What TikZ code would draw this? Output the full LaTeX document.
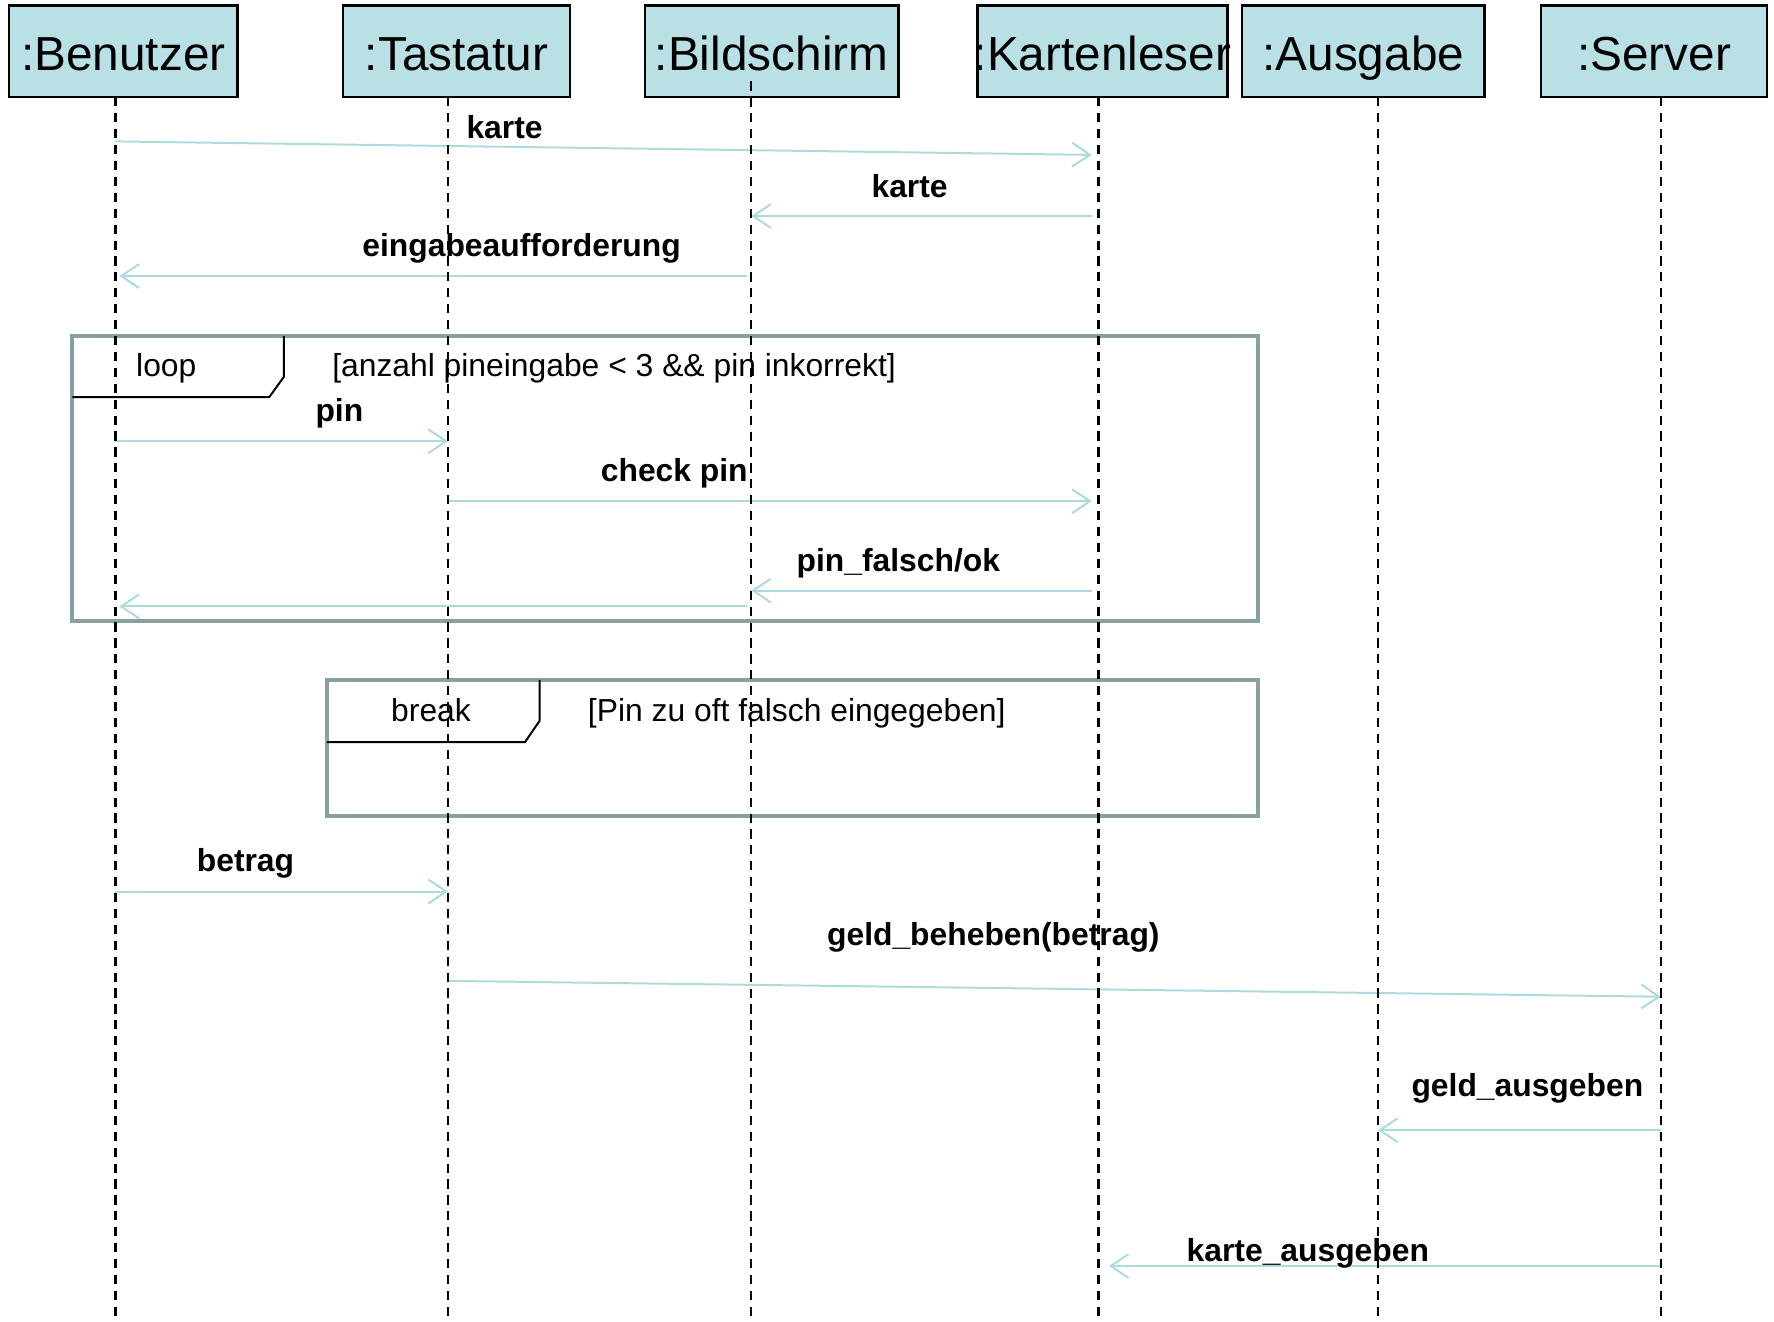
\documentclass[tikz,border=0pt]{standalone}
\usepackage{fontspec}
\setmainfont{Liberation Sans}
\usetikzlibrary{arrows.meta}
\definecolor{lifebox}{RGB}{185,224,228}
\definecolor{msgline}{RGB}{172,219,223}
\definecolor{fragline}{RGB}{137,160,162}

\begin{document}
\begin{tikzpicture}[x=0.01cm,y=-0.01cm,
	objbox/.style={draw,line width=0.6pt,fill=lifebox,minimum height=0.81cm,inner sep=0pt,
		text height=9.4pt,text depth=0pt,font=\fontsize{12}{14}\selectfont},
	lifeline/.style={line width=0.6pt,dash pattern=on 2.3pt off 1.7pt},
	msg/.style={draw=msgline,line width=0.5pt,-{Straight Barb[length=4.5pt,width=6pt]}},
	msglabel/.style={anchor=base,inner sep=0pt,font=\bfseries\fontsize{8}{10}\selectfont},
	frag/.style={draw=fragline,line width=1.05pt},
	tagline/.style={line width=0.5pt},
	fragtxt/.style={anchor=base,inner sep=0pt,font=\fontsize{8}{10}\selectfont}]
	\useasboundingbox (0,0) rectangle (1568,1168);

	% objects
	\node[objbox,minimum width=2.02cm] (ben) at (109,45.5) {:Benutzer};
	\node[objbox,minimum width=2.01cm] (tast) at (403.5,45.5) {:Tastatur};
	\node[objbox,minimum width=2.24cm] (bild) at (682,45.5) {:Bildschirm};
	\node[objbox,minimum width=2.21cm] (kart) at (974.5,45.5) {\makebox[0pt]{:Kartenleser}};
	\node[objbox,minimum width=2.14cm] (ausg) at (1205,45.5) {:Ausgabe};
	\node[objbox,minimum width=2.00cm] (serv) at (1462,45.5) {:Server};

	\coordinate (ll-ben) at (102,0);
	\coordinate (ll-tast) at (396,0);
	\coordinate (ll-bild) at (664,0);
	\coordinate (ll-kart) at (971,0);
	\coordinate (ll-ausg) at (1218,0);
	\coordinate (ll-serv) at (1468,0);

	% fragments
	\draw[frag] (64,297) rectangle (1112,549);
	\draw[tagline] (64,351) -- (238,351) -- (251,333) -- (251,297);
	\node[fragtxt] (loopkw) at (147,333) {loop};
	\node[fragtxt,anchor=base west] (loopguard) at (293,333) {[anzahl pineingabe < 3 \&\& pin inkorrekt]};

	\draw[frag] (289,601) rectangle (1112,721);
	\draw[tagline] (289,656) -- (464,656) -- (477,637) -- (477,601);
	\node[fragtxt] (breakkw) at (381,638) {break};
	\node[fragtxt,anchor=base west] (breakguard) at (519,638) {[Pin zu oft falsch eingegeben]};

	% messages
	\draw[msg,shorten >=1.7pt] (ll-ben |- 0,125) -- (ll-kart |- 0,137);
	\node[msglabel] (m-karte) at (446,122) {karte};
	\draw[msg,shorten <=1.7pt] (ll-kart |- 0,191) -- (ll-bild |- 0,191);
	\node[msglabel] (m-karte2) at (804,175) {karte};
	\draw[msg,shorten <=1pt,shorten >=1pt] (ll-bild |- 0,244) -- (ll-ben |- 0,244);
	\node[msglabel] (m-eingabe) at (461,227) {eingabeaufforderung};

	\draw[msg] (ll-ben |- 0,390) -- (ll-tast |- 0,390);
	\node[msglabel] (m-pin) at (300,373) {pin};
	\draw[msg,shorten >=1.7pt] (ll-tast |- 0,443) -- (ll-kart |- 0,443);
	\node[msglabel] (m-check) at (596,426) {check pin};
	\draw[msg,shorten <=1.7pt] (ll-kart |- 0,522) -- (ll-bild |- 0,522);
	\node[msglabel] (m-falsch) at (794,505) {pin\_falsch/ok};
	\draw[msg,shorten <=1pt,shorten >=1pt] (ll-bild |- 0,536) -- (ll-ben |- 0,536);

	\draw[msg] (ll-ben |- 0,788) -- (ll-tast |- 0,788);
	\node[msglabel] (m-betrag) at (217,770) {betrag};
	\draw[msg] (ll-tast |- 0,867) -- (ll-serv |- 0,881);
	\node[msglabel] (m-beheben) at (878,836) {geld\_beheben(betrag)};
	\draw[msg] (ll-serv |- 0,999) -- (ll-ausg |- 0,999);
	\node[msglabel] (m-ausgeben) at (1350,969) {geld\_ausgeben};
	\draw[msg,shorten >=2.6pt] (ll-serv |- 0,1119) -- (ll-kart |- 0,1119);
	\node[msglabel] (m-kartaus) at (1156,1115) {karte\_ausgeben};

	% lifelines
	\foreach \o/\t in {ben/86,tast/86,bild/72,kart/86,ausg/86,serv/86}
		\draw[lifeline] (ll-\o |- 0,\t) -- (ll-\o |- 0,1175);
\end{tikzpicture}
\end{document}
